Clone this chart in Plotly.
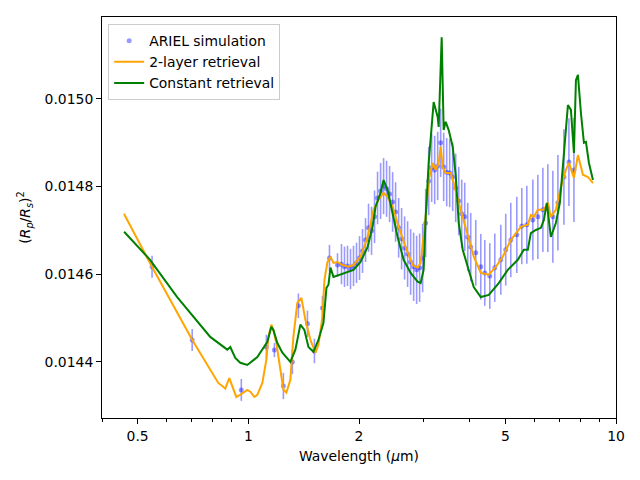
import plotly.graph_objects as go

# ---------------- data ----------------
obs_wl = [0.5473, 0.7036, 0.9570, 1.1197, 1.1774, 1.2455, 1.3178, 1.3683, 1.4482, 1.5129,
          1.5908, 1.6623, 1.7479,
          1.7923, 1.8263, 1.8611, 1.8964, 1.9325, 1.9691, 2.0066, 2.0446, 2.0835, 2.1231,
          2.1635, 2.2046, 2.2464, 2.2895, 2.3330, 2.3769, 2.4221, 2.4687, 2.5150, 2.5634,
          2.6115, 2.6611, 2.7117, 2.7633, 2.8158, 2.8692, 2.9237, 2.9793, 3.0366, 3.0943,
          3.1524, 3.2122, 3.2733, 3.3355, 3.3987, 3.4635, 3.5293, 3.5962, 3.6646, 3.7343,
          3.8052, 3.8776, 3.9514, 4.0263,
          4.1551, 4.2875, 4.3964, 4.5365, 4.6810, 4.8607, 5.0131, 5.1738, 5.3734, 5.5444,
          5.7213, 5.9407, 6.1302, 6.3256, 6.5256, 6.7335, 6.9504, 7.2164, 7.4463, 7.6838]
obs_depth = [0.014617, 0.014450, 0.014336, 0.014434, 0.014427, 0.014345, 0.014400, 0.014528,
             0.014487, 0.014425, 0.014523, 0.014637, 0.014621,
             0.014623, 0.014617, 0.014619, 0.014612, 0.014619, 0.014626, 0.014637, 0.014653,
             0.014678, 0.014706, 0.014699, 0.014731, 0.014774, 0.014790, 0.014801, 0.014795,
             0.014783, 0.014765, 0.014742, 0.014706, 0.014681, 0.014660, 0.014646, 0.014628,
             0.014617, 0.014610, 0.014615, 0.014637, 0.014717, 0.014813, 0.014843, 0.014838,
             0.014847, 0.014900, 0.014845, 0.014833, 0.014831, 0.014822, 0.014797, 0.014767,
             0.014738, 0.014731, 0.014685, 0.014662,
             0.014649, 0.014617, 0.014603, 0.014596, 0.014615, 0.014633, 0.014656, 0.014678,
             0.014690, 0.014710, 0.014713, 0.014724, 0.014731, 0.014747, 0.014751, 0.014731,
             0.014763, 0.014822, 0.014856, 0.014838]
obs_err = [2.5e-5, 2.5e-5, 2.5e-5, 2.8e-5, 1.6e-5, 3.0e-5, 2.8e-5, 2.8e-5, 3.0e-5, 2.8e-5,
           2.8e-5, 3.0e-5, 2.7e-5,
           4.6e-5, 4.6e-5, 4.6e-5, 4.6e-5, 4.6e-5, 4.6e-5, 5.0e-5, 5.0e-5, 5.0e-5, 5.5e-5,
           5.5e-5, 6.0e-5, 6.0e-5, 6.4e-5, 6.4e-5, 6.4e-5, 6.4e-5, 6.8e-5, 6.8e-5, 6.8e-5,
           7.0e-5, 7.2e-5, 7.5e-5, 7.5e-5, 7.8e-5, 7.8e-5, 7.8e-5, 7.8e-5, 7.8e-5, 7.8e-5,
           7.8e-5, 7.8e-5, 7.8e-5, 7.8e-5, 7.8e-5, 7.8e-5, 7.8e-5, 7.8e-5, 7.8e-5, 7.8e-5,
           7.8e-5, 7.8e-5, 7.8e-5, 7.8e-5,
           7.5e-5, 7.5e-5, 7.5e-5, 7.5e-5, 7.8e-5, 8.0e-5, 8.2e-5, 8.5e-5, 8.7e-5, 8.7e-5,
           8.9e-5, 9.2e-5, 9.6e-5, 9.6e-5, 1.0e-4, 1.05e-4, 1.09e-4, 1.09e-4, 1.0e-4, 1.19e-4]

two_layer_wl = [0.459, 0.547, 0.704, 0.8285, 0.8495, 0.8655, 0.8876, 0.9045, 0.9275, 0.951,
                0.9937, 1.0126, 1.0384, 1.0581, 1.0917, 1.1197, 1.1338, 1.1552, 1.1698, 1.192,
                1.2223, 1.2455, 1.2691, 1.3013, 1.326, 1.3597, 1.3942, 1.4297, 1.4757, 1.5224,
                1.5514, 1.5908, 1.6108, 1.6415, 1.6727, 1.7045, 1.7479, 1.8036, 1.8728, 1.9325,
                2.0193, 2.11, 2.191, 2.2609, 2.333, 2.3924, 2.4687, 2.5634, 2.6785, 2.7982,
                2.8873, 2.9422, 3.0366, 3.0943, 3.1722, 3.2325, 3.2939, 3.3355, 3.3776, 3.4417,
                3.5515, 3.6189, 3.7343, 3.8534, 3.9763, 4.1032, 4.2875, 4.5081, 4.7105, 4.9206,
                5.1738, 5.5097, 5.7573, 5.8669, 5.9782, 6.1302, 6.3655, 6.5256, 6.6496, 6.8614,
                7.0797, 7.3075, 7.4463, 7.6838, 7.8788, 8.1298, 8.3886, 8.6563]
two_layer_depth = [0.014738, 0.014617, 0.014450, 0.014352, 0.014345, 0.014339, 0.014363, 0.014343,
                   0.014320, 0.014325, 0.014336, 0.014332, 0.014320, 0.014325, 0.014352, 0.014405,
                   0.014457, 0.014485, 0.014473, 0.014443, 0.014382, 0.014337, 0.014330, 0.014359,
                   0.014457, 0.014535, 0.014546, 0.014496, 0.014450, 0.014421, 0.014439, 0.014503,
                   0.014587, 0.014628, 0.014640, 0.014626, 0.014628, 0.014621, 0.014617, 0.014621,
                   0.014640, 0.014685, 0.014747, 0.014770, 0.014786, 0.014776, 0.014754, 0.014708,
                   0.014662, 0.014621, 0.014615, 0.014626, 0.014730, 0.014815, 0.014854, 0.014838,
                   0.014854, 0.014891, 0.014845, 0.014831, 0.014831, 0.014808, 0.014763, 0.014724,
                   0.014685, 0.014640, 0.014603, 0.014599, 0.014617, 0.014640, 0.014678, 0.014708,
                   0.014713, 0.014735, 0.014731, 0.014747, 0.014747, 0.014763, 0.014731, 0.014747,
                   0.014799, 0.014838, 0.014854, 0.014820, 0.014872, 0.014827, 0.014822, 0.014808]

const_wl = [0.4594, 0.5405, 0.6405, 0.7879, 0.8766, 0.8932, 0.9216, 0.951, 0.9937, 1.0581,
            1.1266, 1.1552, 1.1698, 1.1995, 1.2378, 1.3013, 1.3428, 1.3855, 1.4208, 1.4573,
            1.5034, 1.5514, 1.6007, 1.6312, 1.6519, 1.6727, 1.7045, 1.7812, 1.8728, 1.9325,
            2.0193, 2.11, 2.1773, 2.2187, 2.2895, 2.333, 2.3924, 2.4687, 2.5468, 2.6451,
            2.7633, 2.8873, 2.9422, 2.998, 3.0366, 3.0943, 3.1722, 3.1921, 3.2733, 3.2939,
            3.3566, 3.3987, 3.4417, 3.5072, 3.5962, 3.6646, 3.7343, 3.8293, 3.9514, 4.1032,
            4.2875, 4.5081, 4.7985, 5.0773, 5.4071, 5.6146, 5.7573, 5.8669, 6.0535, 6.2479,
            6.3655, 6.485, 6.6496, 6.8614, 7.0353, 7.2164, 7.4, 7.5406, 7.6838, 7.7808,
            7.8788, 8.0281, 8.1808, 8.2841, 8.4413, 8.6563]
const_depth = [0.014697, 0.014633, 0.014548, 0.014457, 0.014428, 0.014434, 0.014409, 0.014398,
               0.014393, 0.014411, 0.014446, 0.014480, 0.014473, 0.014443, 0.014421, 0.014400,
               0.014428, 0.014485, 0.014473, 0.014434, 0.014423, 0.014450, 0.014489, 0.014569,
               0.014576, 0.014615, 0.014594, 0.014599, 0.014606, 0.014610, 0.014628, 0.014662,
               0.014708, 0.014754, 0.014786, 0.014815, 0.014792, 0.014740, 0.014685, 0.014633,
               0.014603, 0.014583, 0.014580, 0.014610, 0.014731, 0.014854, 0.014968, 0.014993,
               0.014959, 0.014936, 0.015141, 0.014929, 0.014948, 0.014929, 0.014891, 0.014827,
               0.014717, 0.014656, 0.014617, 0.014571, 0.014548, 0.014553, 0.014580, 0.014610,
               0.014633, 0.014656, 0.014656, 0.014694, 0.014701, 0.014706, 0.014724, 0.014763,
               0.014685, 0.014717, 0.014763, 0.014868, 0.014986, 0.014975, 0.014877, 0.015043,
               0.015055, 0.014968, 0.014900, 0.014902, 0.014854, 0.014815]

x_tick_vals = [0.5, 1, 2, 5, 10]
x_tick_text = ["0.5", "1", "2", "5", "10"]
x_minor_vals = [0.4, 0.6, 0.7, 0.8, 0.9, 3, 4, 6, 7, 8, 9]
y_tick_vals = [0.0144, 0.0146, 0.0148, 0.0150]

FONT = "DejaVu Sans"
FS = 13.9

fig = go.Figure()
fig.add_trace(go.Scatter(
    x=obs_wl, y=obs_depth, mode="markers", name="ARIEL simulation",
    marker=dict(color="rgba(0,0,255,0.4)", size=5),
    error_y=dict(type="data", array=obs_err, visible=True,
                 color="rgba(0,0,255,0.4)", thickness=1.6, width=0),
))
fig.add_trace(go.Scatter(
    x=two_layer_wl, y=two_layer_depth, mode="lines", name="2-layer retrieval",
    line=dict(color="orange", width=2),
))
fig.add_trace(go.Scatter(
    x=const_wl, y=const_depth, mode="lines", name="Constant retrieval",
    line=dict(color="green", width=2),
))

axis_common = dict(showgrid=False, zeroline=False, showline=True, linecolor="black",
                   linewidth=1, mirror=True, ticks="outside", tickcolor="black",
                   tickfont=dict(family=FONT, size=FS, color="black"))

fig.update_xaxes(type="log", range=[-0.39794, 1.0], tickvals=x_tick_vals,
                 ticktext=x_tick_text, ticklen=5,
                 minor=dict(tickmode="array", tickvals=x_minor_vals, ticklen=3,
                            ticks="outside", tickcolor="black", showgrid=False),
                 title=dict(text="Wavelength (<i>μ</i>m)", font=dict(family=FONT, size=FS, color="black"),
                            standoff=8),
                 **axis_common)
fig.update_yaxes(range=[0.014272, 0.015187], tickvals=y_tick_vals, tickformat=".4f",
                 ticklen=5,
                 title=dict(text="(<i>R</i><sub><i>p</i></sub>/<i>R</i><sub><i>s</i></sub>)<sup>2</sup>",
                            font=dict(family=FONT, size=FS, color="black"), standoff=10),
                 **axis_common)

fig.update_layout(
    width=640, height=480,
    margin=dict(l=102, r=24, t=17, b=62),
    paper_bgcolor="white", plot_bgcolor="white",
    font=dict(family=FONT, size=FS, color="black"),
    legend=dict(x=0.012, y=0.982, xanchor="left", yanchor="top",
                bgcolor="rgba(255,255,255,0.8)", bordercolor="#cccccc", borderwidth=1,
                font=dict(family=FONT, size=FS, color="black"),
                tracegroupgap=0, itemwidth=30),
    showlegend=True,
)

fig.write_html("out.html")
